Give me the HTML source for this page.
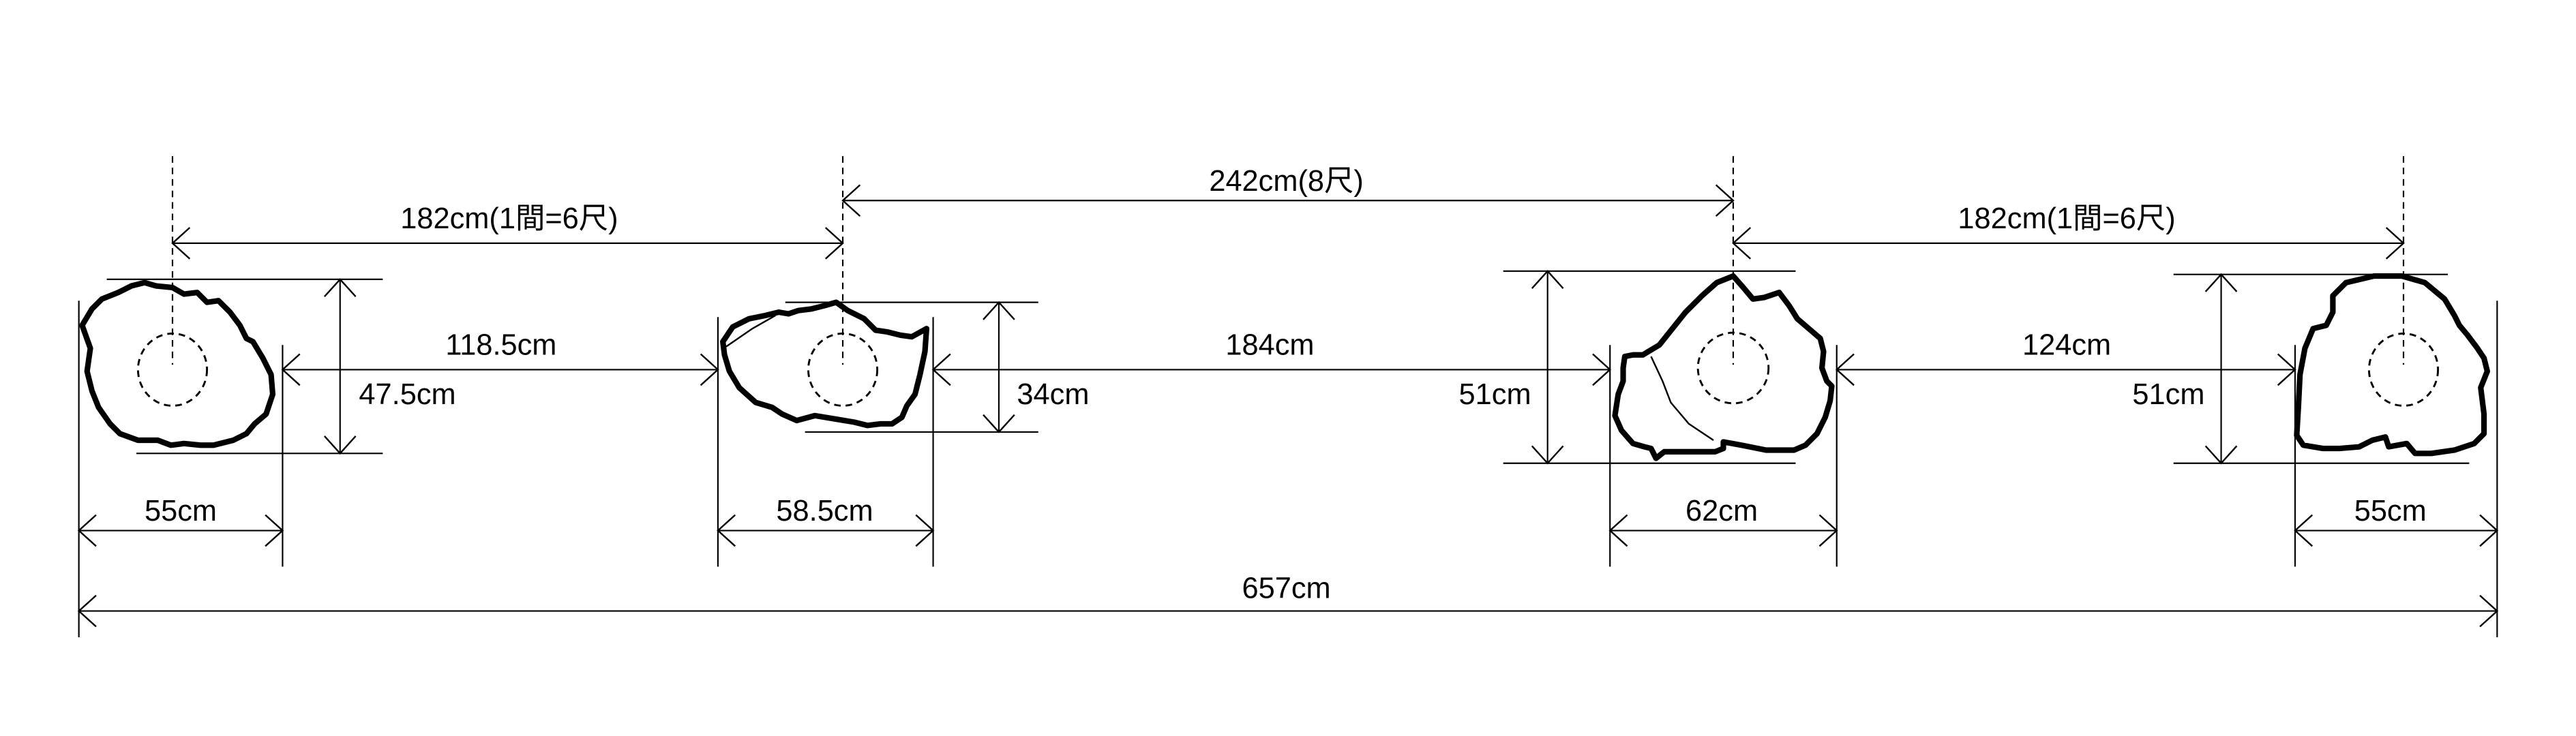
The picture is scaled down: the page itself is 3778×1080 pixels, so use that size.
<!DOCTYPE html>
<html><head><meta charset="utf-8"><style>
html,body{margin:0;padding:0;background:#fff;}
svg{display:block;}
text{font-family:"Liberation Sans","Noto Sans CJK JP",sans-serif;font-size:18px;fill:#000;text-anchor:middle;}
</style></head><body>
<svg width="3778" height="1080" viewBox="0 0 1568 448" xmlns="http://www.w3.org/2000/svg">
<defs>
<marker id="a" markerUnits="userSpaceOnUse" markerWidth="24" markerHeight="24" refX="11" refY="10" orient="auto-start-reverse" viewBox="0 0 24 24">
<path d="M0.5 0.5 L11 10 L0.5 19.5" fill="none" stroke="#000" stroke-width="1"/>
</marker>
</defs>
<g stroke="#000" fill="none" stroke-width="0.9">
<!-- centerlines -->
<g stroke-dasharray="4,3">
<line x1="105" y1="95" x2="105" y2="222"/>
<line x1="513" y1="95" x2="513" y2="222"/>
<line x1="1055" y1="95" x2="1055" y2="222"/>
<line x1="1463" y1="95" x2="1463" y2="222"/>
</g>
<g stroke-dasharray="4,3" stroke-width="1.2">
<ellipse cx="105" cy="225" rx="21" ry="22"/>
<ellipse cx="513" cy="225" rx="21" ry="22"/>
<ellipse cx="1055" cy="224" rx="21.5" ry="21.5"/>
<ellipse cx="1463" cy="225" rx="21" ry="22"/>
</g>
<!-- extension lines -->
<line x1="48" y1="183" x2="48" y2="388"/>
<line x1="172" y1="210" x2="172" y2="345"/>
<line x1="437" y1="193" x2="437" y2="345"/>
<line x1="568" y1="193" x2="568" y2="345"/>
<line x1="980" y1="210" x2="980" y2="345"/>
<line x1="1118" y1="210" x2="1118" y2="345"/>
<line x1="1397" y1="210" x2="1397" y2="345"/>
<line x1="1520" y1="183" x2="1520" y2="388"/>
<line x1="65" y1="170" x2="233" y2="170"/>
<line x1="83" y1="276" x2="233" y2="276"/>
<line x1="478" y1="184" x2="632" y2="184"/>
<line x1="490" y1="263" x2="632" y2="263"/>
<line x1="915" y1="165" x2="1093" y2="165"/>
<line x1="915" y1="282" x2="1093" y2="282"/>
<line x1="1323" y1="167" x2="1490" y2="167"/>
<line x1="1323" y1="282" x2="1503" y2="282"/>
<!-- dimension lines -->
<g marker-start="url(#a)" marker-end="url(#a)">
<line x1="105" y1="148" x2="513" y2="148"/>
<line x1="513" y1="122" x2="1055" y2="122"/>
<line x1="1055" y1="148" x2="1463" y2="148"/>
<line x1="172" y1="225" x2="437" y2="225"/>
<line x1="568" y1="225" x2="980" y2="225"/>
<line x1="1118" y1="225" x2="1397" y2="225"/>
<line x1="207" y1="170" x2="207" y2="276"/>
<line x1="608" y1="184" x2="608" y2="263"/>
<line x1="942" y1="165" x2="942" y2="282"/>
<line x1="1352" y1="167" x2="1352" y2="282"/>
<line x1="48" y1="323" x2="172" y2="323"/>
<line x1="437" y1="323" x2="568" y2="323"/>
<line x1="980" y1="323" x2="1118" y2="323"/>
<line x1="1397" y1="323" x2="1520" y2="323"/>
<line x1="48" y1="372" x2="1520" y2="372"/>
</g>
<!-- stones -->
<g stroke-width="3.4" stroke-linejoin="round">
<path d="M50 198 L56 188 L62 182 L72 178 L80 174 L88 172 L95 174 L105 175 L112 179 L120 178 L126 184 L133 183 L140 190 L146 198 L150 206 L154 208 L160 218 L165 228 L166 240 L162 252 L155 258 L150 264 L142 268 L130 271 L122 271 L112 270 L104 271 L96 268 L84 268 L73 264 L67 258 L60 248 L56 238 L53 226 L55 212 Z"/>
<path d="M440 208 L446 199 L456 194 L466 192 L474 190 L480 191 L486 189 L494 188 L502 186 L509 184 L516 189 L526 194 L533 201 L540 202 L548 204 L555 205 L564 200 L563 214 L560 228 L557 240 L552 247 L549 254 L543 258 L536 258 L528 259 L520 257 L508 255 L496 253 L485 256 L476 252 L470 248 L460 245 L450 236 L444 226 L441 216 Z"/>
<path d="M1055 168 L1062 176 L1067 182 L1074 181 L1083 178 L1089 186 L1094 194 L1101 200 L1108 206 L1110 214 L1109 224 L1112 232 L1115 235 L1114 244 L1111 254 L1106 264 L1099 271 L1092 274 L1075 274 L1060 271 L1049 269 L1049 273 L1044 275 L1035 275 L1020 275 L1013 275 L1008 279 L1005 273 L1001 272 L994 270 L987 262 L983 253 L985 240 L988 232 L988 224 L989 217 L994 216 L1000 216 L1010 210 L1018 200 L1026 190 L1036 180 L1045 172 Z"/>
<path d="M1005 217 L1012 232 L1017 245 L1028 258 L1043 268" stroke-width="1"/>
<path d="M442 211 L458 200 L472 192" stroke-width="1"/>
<path d="M1420 190 L1420 180 L1428 172 L1445 168 L1462 168 L1476 172 L1488 182 L1494 192 L1497 198 L1502 204 L1508 212 L1512 218 L1514 226 L1510 236 L1512 252 L1512 264 L1506 270 L1494 274 L1480 276 L1470 276 L1465 270 L1454 272 L1452 266 L1444 268 L1436 272 L1424 273 L1414 273 L1402 271 L1398 265 L1399 248 L1400 228 L1403 212 L1408 200 L1416 198 Z"/>
</g>
</g>
<!-- labels -->
<text x="310" y="139">182cm(1間=6尺)</text>
<text x="783" y="116">242cm(8尺)</text>
<text x="1258" y="139">182cm(1間=6尺)</text>
<text x="305" y="216">118.5cm</text>
<text x="773" y="216">184cm</text>
<text x="1258" y="216">124cm</text>
<text x="248" y="246">47.5cm</text>
<text x="641" y="246">34cm</text>
<text x="910" y="246">51cm</text>
<text x="1320" y="246">51cm</text>
<text x="110" y="317">55cm</text>
<text x="502" y="317">58.5cm</text>
<text x="1048" y="317">62cm</text>
<text x="1455" y="317">55cm</text>
<text x="783" y="364">657cm</text>
</svg>
</body></html>
